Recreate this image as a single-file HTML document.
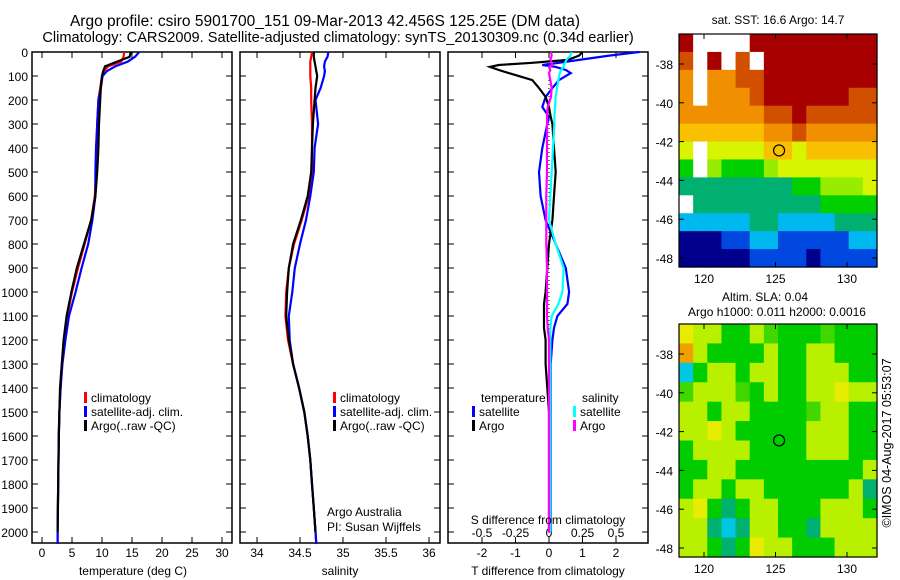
<!DOCTYPE html>
<html><head><meta charset="utf-8"><style>
body{margin:0;background:#fff;}
svg{display:block;font-family:"Liberation Sans",sans-serif;}
</style></head><body>
<svg id="fig" width="900" height="580" viewBox="0 0 900 580" xmlns="http://www.w3.org/2000/svg">
<rect width="900" height="580" fill="#fff"/>
<text x="325" y="26" font-size="15.5" text-anchor="middle">Argo profile: csiro 5901700_151 09-Mar-2013 42.456S 125.25E (DM data)</text>
<text x="338" y="42" font-size="14.6" text-anchor="middle">Climatology: CARS2009. Satellite-adjusted climatology: synTS_20130309.nc (0.34d earlier)</text>
<g id="p1"></g>
<g id="p2"></g>
<g id="p3"></g>
<g id="m1"></g>
<g id="m2"></g>
<text x="778" y="24" font-size="12" text-anchor="middle">sat. SST: 16.6 Argo: 14.7</text>
<text x="765" y="301" font-size="12" text-anchor="middle">Altim. SLA: 0.04</text>
<text x="777" y="316" font-size="12" text-anchor="middle">Argo h1000: 0.011 h2000: 0.0016</text>
<text transform="translate(891,443) rotate(-90)" font-size="12.5" text-anchor="middle">©IMOS 04-Aug-2017 05:53:07</text>
</svg>
<script>
const depths=[0,20,40,60,80,100,150,200,300,400,500,600,700,800,900,1000,1100,1200,1300,1400,1500,1600,1700,1800,1900,2000,2050];
const tempClim=[13.7,13.6,13.2,11,10.3,10,9.7,9.4,9.2,9.1,9.0,8.8,8.2,7.1,6.0,5.0,4.2,3.7,3.3,3.1,2.9,2.8,2.75,2.7,2.65,2.6,2.6];
const tempSat=[16.2,15.5,14.3,12.2,10.8,10.1,9.8,9.4,9.2,9.0,8.9,8.9,8.4,7.7,6.6,5.6,4.5,3.9,3.4,3.1,2.9,2.8,2.75,2.7,2.65,2.6,2.6];
const tempArgo=[14.8,14.6,12.5,10.5,10.2,10.0,9.8,9.7,9.5,9.4,9.2,8.9,8.2,7.0,5.8,4.9,4.1,3.6,3.3,3.0,2.9,2.8,2.75,2.7,2.65,2.6,null];
const salClim=[34.64,34.63,34.62,34.62,34.62,34.62,34.63,34.63,34.64,34.64,34.64,34.60,34.52,34.43,34.37,34.34,34.33,34.36,34.42,34.49,34.55,34.59,34.62,34.64,34.66,34.68,34.69];
const salSat=[34.83,34.82,34.79,34.78,34.79,34.78,34.74,34.68,34.71,34.67,34.66,34.62,34.57,34.50,34.44,34.41,34.37,34.38,34.42,34.49,34.55,34.59,34.62,34.64,34.66,34.68,34.69];
const salArgo=[34.66,34.66,34.67,34.68,34.69,34.70,34.68,34.67,34.65,34.64,34.63,34.59,34.51,34.42,34.37,34.35,34.34,34.37,34.42,34.49,34.55,34.59,34.62,34.64,34.66,34.68,null];
const dDepths=[0,15,33,45,54,62,75,88,117,150,187,229,270,300,400,500,600,700,800,900,1000,1050,1100,1150,1200,1300,1500,2000];
const tDiffSat=[2.7,1.8,0.9,0.3,-0.2,0.2,0.5,0.65,0.3,0.1,-0.1,-0.2,0,-0.05,-0.2,-0.3,-0.25,-0.1,0.2,0.5,0.6,0.55,0.25,0.15,0.1,0.05,0.05,0.05];
const tDiffArgo=[1.0,0.9,0.56,-0.5,-1.5,-1.76,-1.5,-1.2,-0.5,-0.3,-0.1,0,0.05,0.1,0.15,0.2,0.15,0.1,0.0,-0.05,-0.1,-0.15,-0.15,-0.15,-0.1,-0.1,0,0];
const sDiffSat=[0.17,0.16,0.13,0.12,0.11,0.11,0.09,0.08,0.07,0.06,0.05,0.045,0.04,0.04,0.03,0.02,0.01,0.0,0.05,0.11,0.10,0.07,0.02,0.01,0.01,0.01,0.01,0.01];
const sDiffArgo=[0.015,0.02,0.01,0.02,0.025,0.0,0.01,0.0,0.01,0.02,0.015,-0.01,-0.015,-0.015,-0.015,-0.015,-0.02,-0.02,-0.02,-0.015,-0.015,-0.015,-0.015,-0.01,0,0,0,0];
const depthTicks=[0,100,200,300,400,500,600,700,800,900,1000,1100,1200,1300,1400,1500,1600,1700,1800,1900,2000];
const tempTicks=[0,5,10,15,20,25,30];
const salTicks=[34,34.5,35,35.5,36];
const tdTicks=[-2,-1,0,1,2];
const sdTicks=[-0.5,-0.25,0,0.25,0.5];
const sstLatTicks=[-38,-40,-42,-44,-46,-48];
const lonTicks=[120,125,130];
// SST colour index grid, rows lat -37..-48, cols lon 118.5..131.5 (-1 = no data)
const sstGrid=[
[10,-1,-1,-1,-1,10,10,10,10,10,10,10,10,10],
[9,-1,10,-1,9,-1,10,10,10,10,10,10,10,10],
[8,-1,8,8,9,9,10,10,10,10,10,10,10,10],
[8,-1,8,8,8,9,10,10,10,10,10,10,9,9],
[8,8,8,8,8,8,9,9,10,9,9,9,9,9],
[7,7,7,7,7,7,8,8,9,8,8,8,8,8],
[6,-1,6,6,6,6,7,7,6,7,7,7,7,7],
[4,-1,5,4,4,4,5,6,6,6,6,6,6,6],
[3,3,3,3,3,3,3,3,4,4,5,5,5,6],
[-1,3,3,3,3,3,3,3,3,3,4,4,4,4],
[2,2,2,2,2,3,3,2,2,2,2,3,3,3],
[0,0,0,1,1,2,2,1,1,1,1,1,2,2],
[0,0,0,0,0,1,1,1,1,0,1,1,1,1]];
const slaGrid=[
[5,4,4,2,2,4,3,2,2,2,3,2,2,2],
[6,4,2,2,2,2,4,2,2,4,4,2,2,2],
[0,2,4,4,2,4,4,2,2,4,4,4,2,2],
[3,4,4,4,3,2,4,2,2,4,4,5,4,4],
[4,4,2,4,4,2,2,2,2,3,4,4,2,2],
[4,4,5,4,2,2,2,2,2,4,4,4,2,2],
[2,4,4,4,4,2,2,2,2,4,4,4,2,2],
[2,2,4,4,2,2,2,2,2,2,2,2,2,4],
[2,4,4,2,4,4,2,2,2,2,2,2,4,1],
[4,5,2,1,2,4,4,2,2,2,4,4,4,2],
[4,4,1,0,1,4,4,2,2,1,4,4,4,4],
[4,4,2,1,2,5,4,4,2,2,2,4,4,4]];
const profileLon=125.25, profileLat=-42.456;

const NS='http://www.w3.org/2000/svg';
function mk(parent,tag,attrs){const e=document.createElementNS(NS,tag);for(const k in attrs)e.setAttribute(k,attrs[k]);parent.appendChild(e);return e;}
const Y0=52,Y1=532,PB=543,PT=52;
const yD=d=>Y0+(d/2000)*(Y1-Y0);
function lin(v0,p0,v1,p1){return v=>p0+(v-v0)*(p1-p0)/(v1-v0);}

function frame(g,x0,x1,labels){
  const r=mk(g,'rect',{x:x0,y:PT,width:x1-x0,height:PB-PT,fill:'none',stroke:'#000','stroke-width':1.5});
  
  
  depthTicks.forEach(d=>{
    mk(g,'line',{x1:x0,x2:x0+6,y1:yD(d),y2:yD(d),stroke:'#000'});
    mk(g,'line',{x1:x1-6,x2:x1,y1:yD(d),y2:yD(d),stroke:'#000'});
    if(labels){const t=mk(g,'text',{x:x0-4,y:yD(d)+5,'font-size':12,'text-anchor':'end'});t.textContent=d;
      
      }
  });
}
function xticks(g,ticks,sc,labY,top,fmt){
  ticks.forEach(v=>{const x=sc(v);
    if(top){mk(g,'line',{x1:x,x2:x,y1:PT,y2:PT+6,stroke:'#000'});}
    else{mk(g,'line',{x1:x,x2:x,y1:PB-6,y2:PB,stroke:'#000'});}
    if(labY){const t=mk(g,'text',{x:x,y:labY,'font-size':12,'text-anchor':'middle'});t.textContent=fmt?fmt(v):v;
      
      }
  });
}
function series(g,vals,sc,color,name,deps){
  const pts=[];(deps||depths).forEach((d,i)=>{if(vals[i]!==null)pts.push(sc(vals[i]).toFixed(1)+','+yD(d).toFixed(1));});
  const p=mk(g,'polyline',{points:pts.join(' '),fill:'none',stroke:color,'stroke-width':2.2,'stroke-linejoin':'miter'});
  
  
}
function legendItem(g,x,y,color,label,name){
  mk(g,'rect',{x:x,y:y-10,width:3,height:11,fill:color});
  const t=mk(g,'text',{x:x+7,y:y,'font-size':12});t.textContent=label;
  
  
}
function txt(g,x,y,s,name,anchor){const t=mk(g,'text',{x:x,y:y,'font-size':12,'text-anchor':anchor||'start'});t.textContent=s;
  
  return t;}

const p1=document.getElementById('p1');
const sT=lin(0,42,30,222);
frame(p1,32,232,true);
xticks(p1,tempTicks,sT,null,true);xticks(p1,tempTicks,sT,557,false);
series(p1,tempClim,sT,'#f00','temp-climatology-line');
series(p1,tempSat,sT,'#0000ff','temp-satellite-line');
series(p1,tempArgo,sT,'#000','temp-argo-line');
legendItem(p1,84,402,'#f00','climatology','legend-climatology');
legendItem(p1,84,416,'#00f','satellite-adj. clim.','legend-satellite');
legendItem(p1,84,430,'#000','Argo(..raw -QC)','legend-argo');
txt(p1,133,575,'temperature (deg C)','x-axis-title','middle');

const p2=document.getElementById('p2');
const sS=lin(34,257,36,429);
frame(p2,240,440,false);
xticks(p2,salTicks,sS,null,true);xticks(p2,salTicks,sS,557,false);
series(p2,salClim,sS,'#f00','sal-climatology-line');
series(p2,salSat,sS,'#0000ff','sal-satellite-line');
series(p2,salArgo,sS,'#000','sal-argo-line');
legendItem(p2,333,402,'#f00','climatology','legend-climatology');
legendItem(p2,333,416,'#00f','satellite-adj. clim.','legend-satellite');
legendItem(p2,333,430,'#000','Argo(..raw -QC)','legend-argo');
txt(p2,327,516,'Argo Australia','credit-line-1');
txt(p2,327,531,'PI: Susan Wijffels','credit-line-2');
txt(p2,340,575,'salinity','x-axis-title','middle');

const p3=document.getElementById('p3');
const sTD=lin(0,549,2,616);
const sSD=v=>sTD(v*4);
frame(p3,448,648,false);
xticks(p3,sdTicks,sSD,null,true);xticks(p3,tdTicks,sTD,557,false);
sdTicks.forEach(v=>{txt(p3,sSD(v),537,String(v),'s-diff-tick-label','middle');});
mk(p3,'line',{x1:sTD(0),x2:sTD(0),y1:PT,y2:PB,stroke:'#000','stroke-dasharray':'1,3'});
series(p3,tDiffSat,sTD,'#0000ff','tdiff-satellite-line',dDepths);
series(p3,tDiffArgo,sTD,'#000','tdiff-argo-line',dDepths);
series(p3,sDiffSat,sSD,'#00ffff','sdiff-satellite-line',dDepths);
series(p3,sDiffArgo,sSD,'#ff00ff','sdiff-argo-line',dDepths);
txt(p3,481,402,'temperature','legend-temperature-heading');
legendItem(p3,472,416,'#00f','satellite','legend-t-satellite');
legendItem(p3,472,430,'#000','Argo','legend-t-argo');
txt(p3,582,402,'salinity','legend-salinity-heading');
legendItem(p3,573,416,'#0ff','satellite','legend-s-satellite');
legendItem(p3,573,430,'#f0f','Argo','legend-s-argo');
txt(p3,548,524,'S difference from climatology','s-axis-title','middle');
txt(p3,548,575,'T difference from climatology','x-axis-title','middle');

const sstPal=['#00008c','#0048e0','#00b8f0','#00b070','#00d000','#98ec00','#d8f400','#f8c000','#f09000','#d05000','#a80000'];
const slaPal=['#00c8e0','#00b070','#00cc00','#40d800','#b8f000','#e8ec00','#f0a000'];
function drawMap(g,grid,pal,top,bottom,name){
  const L=679,R=877,lonS=lin(120,704,130,847),latS=lin(-38,top+30,-48,top+224);
  const rows=grid.length,cols=grid[0].length,cw=(R-L)/cols,ch=(bottom-top)/rows;
  grid.forEach((row,r)=>row.forEach((v,c)=>{
    const cell=mk(g,'rect',{x:(L+c*cw).toFixed(2),y:(top+r*ch).toFixed(2),width:(cw+0.6).toFixed(2),height:(ch+0.6).toFixed(2),fill:v<0?'#fff':pal[v]});
    
    
  }));
  const f=mk(g,'rect',{x:L,y:top,width:R-L,height:bottom-top,fill:'none',stroke:'#000','stroke-width':1.2});
  
  
  sstLatTicks.forEach(v=>{const y=latS(v);
    mk(g,'line',{x1:L,x2:L+5,y1:y,y2:y,stroke:'#000'});mk(g,'line',{x1:R-5,x2:R,y1:y,y2:y,stroke:'#000'});
    txt(g,673,y+5,String(v),'lat-tick-label','end');});
  lonTicks.forEach(v=>{const x=lonS(v);
    mk(g,'line',{x1:x,x2:x,y1:top,y2:top+5,stroke:'#000'});mk(g,'line',{x1:x,x2:x,y1:bottom-5,y2:bottom,stroke:'#000'});
    txt(g,x,bottom+16,String(v),'lon-tick-label','middle');});
  const m=mk(g,'circle',{cx:lonS(profileLon),cy:latS(profileLat),r:5.5,fill:'none',stroke:'#000','stroke-width':1.2});
  
  
}
drawMap(document.getElementById('m1'),sstGrid,sstPal,34,267,'sst-map');
drawMap(document.getElementById('m2'),slaGrid,slaPal,324,557,'sla-map');
</script>
</body></html>
